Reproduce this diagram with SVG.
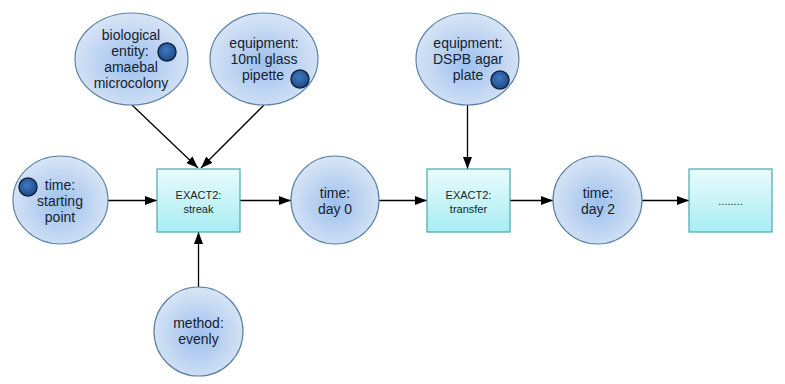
<svg xmlns="http://www.w3.org/2000/svg" width="785" height="384" viewBox="0 0 785 384">
<defs>
<radialGradient id="eg" cx="50%" cy="55%" r="55%">
<stop offset="0" stop-color="#9dc0ee"/>
<stop offset="1" stop-color="#d8e5f5"/>
</radialGradient>
<linearGradient id="bg" x1="0" y1="0" x2="0" y2="1">
<stop offset="0" stop-color="#eafbfc"/>
<stop offset="1" stop-color="#a6edf3"/>
</linearGradient>
<radialGradient id="dg" cx="45%" cy="40%" r="60%">
<stop offset="0" stop-color="#3f78bf"/>
<stop offset="1" stop-color="#1f4c8a"/>
</radialGradient>
<marker id="ah" viewBox="0 0 12 10" refX="12" refY="5" markerWidth="12" markerHeight="10" markerUnits="userSpaceOnUse" orient="auto">
<path d="M0,0.5 L12,5 L0,9.5 Z" fill="#000"/>
</marker>
</defs>
<style>
.el{fill:url(#eg);stroke:#5b82a6;stroke-width:1.2}
.bx{fill:url(#bg);stroke:#4aa9ad;stroke-width:1.2}
.dot{fill:url(#dg);stroke:#14263f;stroke-width:1.5}
.t{font-family:"Liberation Sans",Arial,sans-serif;font-size:14px;fill:#15222f;text-anchor:middle}
.s{font-family:"Liberation Sans",Arial,sans-serif;font-size:11px;fill:#15252b;text-anchor:middle}
.c{fill:none;stroke:#000;stroke-width:1.3;marker-end:url(#ah)}
</style>
<rect width="785" height="384" fill="#fff"/>
<g id="connectors">
<line class="c" x1="132" y1="105" x2="198" y2="168"/>
<line class="c" x1="264" y1="105" x2="201" y2="168"/>
<line class="c" x1="108" y1="200.5" x2="157" y2="200.5"/>
<line class="c" x1="198.5" y1="287" x2="198.5" y2="232"/>
<line class="c" x1="240" y1="200.5" x2="291" y2="200.5"/>
<line class="c" x1="467.5" y1="105" x2="467.5" y2="169"/>
<line class="c" x1="379" y1="200.5" x2="427" y2="200.5"/>
<line class="c" x1="510" y1="200.5" x2="553" y2="200.5"/>
<line class="c" x1="642" y1="200.5" x2="689" y2="200.5"/>
</g>
<g id="bio">
<ellipse class="el" cx="131.5" cy="59" rx="56.5" ry="46"/>
<text class="t" x="131" y="40">biological</text>
<text class="t" x="130" y="56">entity:</text>
<text class="t" x="131" y="72">amaebal</text>
<text class="t" x="131" y="88">microcolony</text>
<circle class="dot" cx="167" cy="52" r="9"/>
</g>
<g id="equip1">
<ellipse class="el" cx="264" cy="59" rx="54" ry="46"/>
<text class="t" x="264" y="48">equipment:</text>
<text class="t" x="264" y="64">10ml glass</text>
<text class="t" x="263" y="80">pipette</text>
<circle class="dot" cx="300" cy="79" r="9"/>
</g>
<g id="equip2">
<ellipse class="el" cx="467.5" cy="59" rx="51.5" ry="46"/>
<text class="t" x="468" y="48">equipment:</text>
<text class="t" x="468" y="64">DSPB agar</text>
<text class="t" x="468" y="80">plate</text>
<circle class="dot" cx="500" cy="80" r="9"/>
</g>
<g id="start">
<ellipse class="el" cx="60.5" cy="200" rx="47.5" ry="44"/>
<text class="t" x="60" y="190">time:</text>
<text class="t" x="60" y="206">starting</text>
<text class="t" x="60" y="222">point</text>
<circle class="dot" cx="28" cy="187" r="9"/>
</g>
<g id="streak">
<rect class="bx" x="157" y="169" width="83" height="63"/>
<text class="s" x="198.5" y="199">EXACT2:</text>
<text class="s" x="198.5" y="213">streak</text>
</g>
<g id="day0">
<ellipse class="el" cx="335" cy="200" rx="44" ry="44"/>
<text class="t" x="335" y="198">time:</text>
<text class="t" x="335" y="214">day 0</text>
</g>
<g id="method">
<ellipse class="el" cx="198.5" cy="331.5" rx="44.5" ry="44.5"/>
<text class="t" x="198.5" y="328">method:</text>
<text class="t" x="198.5" y="344">evenly</text>
</g>
<g id="transfer">
<rect class="bx" x="427" y="169" width="83" height="63"/>
<text class="s" x="468.5" y="199">EXACT2:</text>
<text class="s" x="468.5" y="213">transfer</text>
</g>
<g id="day2">
<ellipse class="el" cx="597.5" cy="200" rx="44.5" ry="44"/>
<text class="t" x="598" y="198">time:</text>
<text class="t" x="598" y="214">day 2</text>
</g>
<g id="more">
<rect class="bx" x="689" y="169" width="83" height="63"/>
<text class="s" x="730.5" y="205">........</text>
</g>
</svg>
